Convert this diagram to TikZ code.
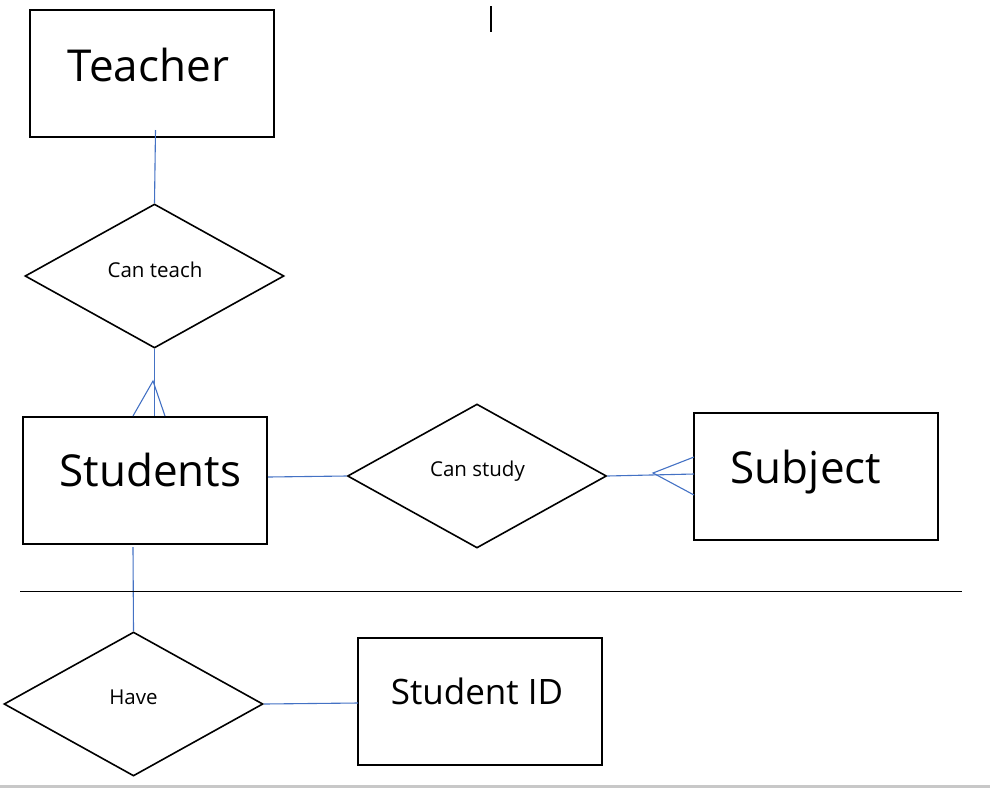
\documentclass[tikz,border=0pt]{standalone}
\usepackage{fontspec}
\setmainfont{Open Sans}
\usetikzlibrary{shapes.geometric}
\definecolor{linkblue}{HTML}{4472C4}
\definecolor{bargrey}{HTML}{C8C8C8}
\tikzset{
  entity/.style={draw=black, line width=2pt, rectangle, inner sep=0pt, minimum width=244pt, minimum height=127pt},
  relation/.style={draw=black, line width=1.6pt, diamond, inner sep=0pt, minimum width=259pt, minimum height=144pt},
  bigtxt/.style={anchor=base, inner sep=0pt, font=\fontsize{44}{50}\selectfont},
  midtxt/.style={anchor=base, inner sep=0pt, font=\fontsize{35}{40}\selectfont},
  smalltxt/.style={anchor=base, inner sep=0pt, font=\fontsize{20.5}{24}\selectfont},
  link/.style={draw=linkblue, line width=1.1pt},
  rule/.style={draw=black, line width=1pt}
}
\begin{document}
\begin{tikzpicture}[x=1pt,y=-1pt]
\useasboundingbox (0,0) rectangle (990,788);
\fill[bargrey] (0,785) rectangle (990,788);
% entities
\node[entity] (teacher) at (152,73.5) {};
\node[entity] (students) at (145,480) {};
\node[entity] (subject) at (816,476) {};
\node[entity] (sid) at (480,701) {};
% relations
\node[relation] (canteach) at (154.5,276) {};
\node[relation] (canstudy) at (477,476) {};
\node[relation] (have) at (133.5,704) {};
% texts
\node[bigtxt] (tteacher) at (148.5,81) {Teacher};
\node[bigtxt] (tstudents) at (150.5,486) {Students};
\node[bigtxt] (tsubject) at (806,483) {Subject};
\node[midtxt] (tsid) at (477,704) {Student ID};
\node[smalltxt] (tcanteach) at (155,277) {Can teach};
\node[smalltxt] (tcanstudy) at (477.5,476) {Can study};
\node[smalltxt] (thave) at (133.5,704) {Have};
% helper coordinates
\coordinate (t1) at (155.5,130);
\coordinate (cf1) at (153,381);
\coordinate (cf1l) at (133,416);
\coordinate (cf1r) at (165,416);
\coordinate (cf2) at (653,473);
\coordinate (cf2u) at (694,457);
\coordinate (cf2d) at (694,495);
\coordinate (s1) at (268,477);
\coordinate (s2) at (694,474);
\coordinate (h1) at (133,547);
\coordinate (h2) at (358,703);
\coordinate (hl1) at (20,591);
\coordinate (hl2) at (962,591);
\coordinate (cur1) at (491,6);
\coordinate (cur2) at (491,32);
% connectors
\draw[link] (t1) -- (canteach.north);
\draw[link] (canteach.south) -- (canteach.south |- students.north);
\draw[link] (cf1l) -- (cf1) -- (cf1r);
\draw[link] (s1) -- (canstudy.west);
\draw[link] (canstudy.east) -- (s2);
\draw[link] (cf2u) -- (cf2) -- (cf2d);
\draw[link] (h1) -- (have.north);
\draw[link] (have.east) -- (h2);
\draw[rule] (hl1) -- (hl2);
\draw[black, line width=1.2pt] (cur1) -- (cur2);
\end{tikzpicture}
\end{document}
